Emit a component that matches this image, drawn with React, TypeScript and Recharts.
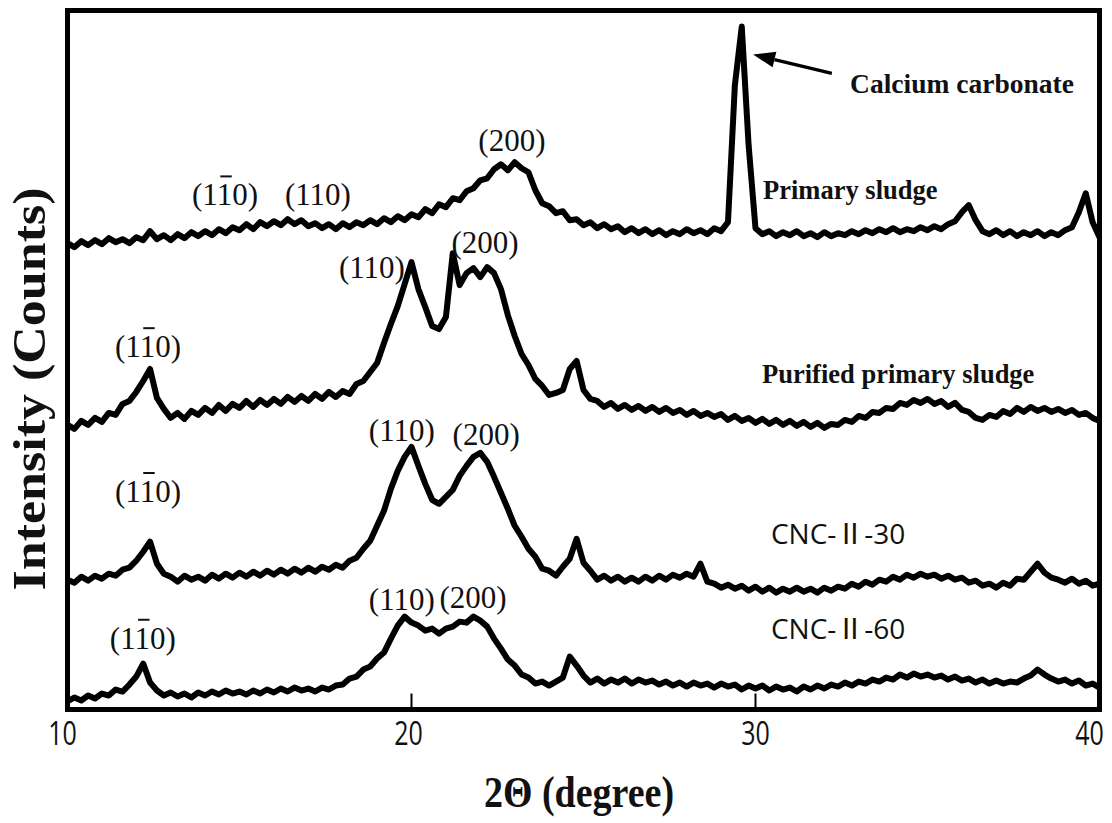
import { LineChart, Line, XAxis, YAxis, ReferenceLine, ReferenceDot, ReferenceArea } from 'recharts'

// 2θ sampling grid (degrees)
const twoTheta = [
  10, 10.2, 10.4, 10.6, 10.8, 11, 11.2, 11.4, 11.6, 11.8,
  12, 12.2, 12.4, 12.6, 12.8, 13, 13.2, 13.4, 13.6, 13.8,
  14, 14.2, 14.4, 14.6, 14.8, 15, 15.2, 15.4, 15.6, 15.8,
  16, 16.2, 16.4, 16.6, 16.8, 17, 17.2, 17.4, 17.6, 17.8,
  18, 18.2, 18.4, 18.6, 18.8, 19, 19.2, 19.4, 19.6, 19.8,
  20, 20.2, 20.4, 20.6, 20.8, 21, 21.2, 21.4, 21.6, 21.8,
  22, 22.2, 22.4, 22.6, 22.8, 23, 23.2, 23.4, 23.6, 23.8,
  24, 24.2, 24.4, 24.6, 24.8, 25, 25.2, 25.4, 25.6, 25.8,
  26, 26.2, 26.4, 26.6, 26.8, 27, 27.2, 27.4, 27.6, 27.8,
  28, 28.2, 28.4, 28.6, 28.8, 29, 29.2, 29.4, 29.6, 29.8,
  30, 30.2, 30.4, 30.6, 30.8, 31, 31.2, 31.4, 31.6, 31.8,
  32, 32.2, 32.4, 32.6, 32.8, 33, 33.2, 33.4, 33.6, 33.8,
  34, 34.2, 34.4, 34.6, 34.8, 35, 35.2, 35.4, 35.6, 35.8,
  36, 36.2, 36.4, 36.6, 36.8, 37, 37.2, 37.4, 37.6, 37.8,
  38, 38.2, 38.4, 38.6, 38.8, 39, 39.2, 39.4, 39.6, 39.8,
  40,
]

// Intensities, already offset for the stacked display
const primarySludge = [
  467, 463, 469, 465, 470, 466, 472, 468, 471, 467,
  473, 470, 479, 471, 475, 470, 476, 472, 478, 474,
  479, 475, 481, 477, 483, 480, 486, 481, 488, 484,
  489, 485, 491, 486, 490, 484, 487, 482, 486, 481,
  487, 483, 488, 485, 490, 486, 492, 488, 494, 490,
  496, 493, 501, 497, 506, 503, 512, 510, 519, 522,
  530, 532, 541, 546, 540, 548, 542, 538, 520, 507,
  504, 497, 499, 490, 491, 485, 488, 482, 486, 481,
  484, 478, 482, 477, 481, 476, 480, 475, 479, 476,
  481, 477, 480, 476, 482, 479, 488, 625, 684, 565,
  482, 476, 479, 474, 478, 475, 479, 474, 477, 473,
  478, 474, 477, 475, 479, 476, 480, 477, 481, 478,
  482, 478, 481, 479, 483, 480, 484, 481, 486, 489,
  498, 505, 490, 479, 476, 480, 475, 479, 474, 478,
  475, 479, 474, 478, 475, 480, 483, 498, 517, 488,
  473,
]

const purifiedSludge = [
  285, 281, 289, 285, 292, 288, 297, 295, 306, 309,
  318, 329, 341, 312, 301, 292, 297, 291, 299, 295,
  302, 297, 305, 299, 306, 302, 309, 303, 310, 305,
  311, 306, 313, 308, 314, 309, 316, 311, 318, 313,
  319, 316, 326, 329, 338, 347, 367, 386, 404, 426,
  448, 421, 403, 384, 381, 393, 457, 425, 437, 442,
  433, 443, 437, 421, 395, 374, 356, 345, 331, 324,
  315, 317, 320, 341, 349, 320, 311, 309, 303, 307,
  301, 305, 300, 304, 299, 303, 298, 302, 297, 300,
  295, 299, 294, 297, 293, 296, 290, 294, 289, 292,
  287, 291, 286, 290, 285, 289, 284, 288, 283, 287,
  282, 286, 285, 290, 288, 294, 292, 298, 297, 302,
  301, 307, 305, 310, 307, 311, 306, 309, 303, 307,
  300, 298, 292, 290, 295, 293, 299, 296, 302, 298,
  303, 299, 302, 298, 301, 297, 300, 295, 297, 292,
  289,
]

const cnc30 = [
  130, 127, 133, 129, 134, 131, 136, 134, 140, 142,
  149, 158, 168, 146, 136, 133, 128, 134, 130, 133,
  129, 135, 131, 136, 132, 137, 133, 138, 134, 139,
  135, 140, 136, 141, 137, 142, 138, 143, 140, 145,
  142, 149, 152, 161, 169, 184, 199, 221, 239, 253,
  263, 244, 226, 210, 206, 213, 220, 234, 244, 253,
  257, 248, 233, 217, 201, 184, 173, 161, 153, 141,
  139, 134, 143, 151, 171, 147, 139, 130, 134, 129,
  133, 128, 132, 128, 133, 129, 134, 130, 135, 132,
  136, 133, 146, 128, 126, 122, 125, 121, 124, 119,
  123, 118, 122, 117, 121, 118, 122, 118, 121, 117,
  122, 119, 123, 121, 126, 123, 128, 125, 130, 128,
  133, 130, 135, 132, 136, 133, 135, 131, 134, 130,
  132, 127, 129, 124, 126, 122, 127, 124, 131, 130,
  138, 146, 137, 132, 130, 127, 131, 126, 129, 124,
  126,
]

const cnc60 = [
  8, 12, 9, 14, 11, 16, 14, 20, 18, 25,
  33, 46, 27, 19, 14, 17, 13, 16, 12, 17,
  14, 18, 15, 19, 16, 18, 15, 19, 16, 20,
  17, 21, 18, 22, 19, 21, 18, 22, 20, 24,
  25, 31, 33, 40, 43, 51, 57, 71, 84, 93,
  87, 84, 79, 81, 76, 81, 83, 88, 87, 93,
  89, 83, 71, 61, 50, 44, 35, 32, 26, 28,
  24, 28, 32, 53, 44, 34, 27, 31, 26, 30,
  27, 31, 26, 30, 27, 29, 25, 28, 24, 27,
  23, 27, 24, 26, 22, 26, 23, 25, 20, 24,
  21, 24, 19, 23, 20, 22, 18, 23, 20, 24,
  21, 25, 23, 27, 24, 28, 26, 30, 28, 32,
  30, 35, 32, 36, 33, 35, 32, 34, 30, 33,
  29, 31, 27, 30, 26, 29, 26, 28, 27, 31,
  34, 40, 35, 31, 28, 30, 26, 29, 24, 26,
  22,
]

const xTicks = [10, 20, 30, 40]
const innerTicks = [20, 30]

// Miller index annotations (centre of text, in 2θ / intensity units)
const peakLabels = [
  { text: '(110)', bar: true, x: 14.58, y: 512 },
  { text: '(110)', bar: false, x: 17.28, y: 512 },
  { text: '(200)', bar: false, x: 22.92, y: 566 },
  { text: '(110)', bar: true, x: 12.34, y: 360 },
  { text: '(110)', bar: false, x: 18.85, y: 439 },
  { text: '(200)', bar: false, x: 22.14, y: 464 },
  { text: '(110)', bar: true, x: 12.34, y: 215 },
  { text: '(110)', bar: false, x: 19.72, y: 276 },
  { text: '(200)', bar: false, x: 22.17, y: 272 },
  { text: '(110)', bar: true, x: 12.19, y: 68 },
  { text: '(110)', bar: false, x: 19.72, y: 107 },
  { text: '(200)', bar: false, x: 21.79, y: 109 },
]

// Sample names (left edge / baseline)
const sampleLabels = [
  { text: 'Calcium carbonate', serif: true, x: 32.75, y: 617 },
  { text: 'Primary sludge', serif: true, x: 30.22, y: 511 },
  { text: 'Purified primary sludge', serif: true, x: 30.19, y: 327 },
  { text: 'CNC-\u2161-30', serif: false, x: 30.45, y: 166 },
  { text: 'CNC-\u2161-60', serif: false, x: 30.45, y: 71 },
]

// arrow from the label to the calcite reflection
const arrowPath = [
  { x: 32.22, y: 637 },
  { x: 29.93, y: 656 },
]

const data = twoTheta.map((t, i) => ({
  t,
  primary: primarySludge[i],
  purified: purifiedSludge[i],
  cnc30: cnc30[i],
  cnc60: cnc60[i],
}))

const SERIF = "'Liberation Serif', 'Times New Roman', serif"
const SANS = "'Open Sans', 'Noto Sans CJK SC', sans-serif"
const INK = '#111'

function XTick(props: any) {
  const { x, y, payload } = props
  const shift = payload.value === 10 ? -5 : payload.value === 40 ? -10 : payload.value === 20 ? -3 : 0
  return (
    <text
      transform={`translate(${x + shift},${y + 21.5}) scale(1,1.3)`}
      textAnchor="middle"
      fontFamily={SANS}
      fontSize={25}
      fill={INK}
    >
      {payload.value}
    </text>
  )
}

// axis titles are anchored on the plot's edges through a zero-size ReferenceDot
function XTitle({ cx, cy }: any) {
  return (
    <text
      transform={`translate(${cx},${cy + 97}) scale(1,1.15)`}
      textAnchor="middle"
      fontFamily={SERIF}
      fontWeight="bold"
      fontSize={38}
      fill={INK}
    >
      2Θ (degree)
    </text>
  )
}

function YTitle({ cx, cy }: any) {
  return (
    <text
      transform={`translate(${cx - 22.5},${cy}) rotate(-90) scale(1.13,1)`}
      textAnchor="middle"
      fontFamily={SERIF}
      fontWeight="bold"
      fontSize={46}
      fill={INK}
    >
      Intensity (Counts)
    </text>
  )
}

function PeakLabel({ cx, cy, text, bar }: any) {
  const fs = 31
  const base = cy + 7
  const start = cx - (2.167 * fs) / 2
  return (
    <g>
      <text x={cx} y={base} textAnchor="middle" fontFamily={SERIF} fontSize={fs} fill={INK}>
        {text}
      </text>
      {bar && (
        <line
          x1={start + 0.93 * fs}
          x2={start + 1.3 * fs}
          y1={base - 0.93 * fs}
          y2={base - 0.93 * fs}
          stroke={INK}
          strokeWidth={2}
        />
      )}
    </g>
  )
}

function SampleLabel({ cx, cy, text, serif }: any) {
  return (
    <text
      x={cx}
      y={cy}
      fontFamily={serif ? SERIF : SANS}
      fontWeight={serif ? 'bold' : 'normal'}
      fontSize={serif ? (text.startsWith('Calcium') ? 27.5 : 26.5) : 28}
      fill={INK}
    >
      {text}
    </text>
  )
}

function Arrow(p: any) {
  const { x1, y1, x2, y2 } = p
  const ang = Math.atan2(y2 - y1, x2 - x1)
  const len = 22
  const half = 8
  const bx = x2 - len * Math.cos(ang)
  const by = y2 - len * Math.sin(ang)
  const nx = -Math.sin(ang) * half
  const ny = Math.cos(ang) * half
  return (
    <g>
      <line x1={x1} y1={y1} x2={bx} y2={by} stroke="#000" strokeWidth={3.5} />
      <polygon points={`${x2},${y2} ${bx + nx},${by + ny} ${bx - nx},${by - ny}`} fill="#000" />
    </g>
  )
}

const seriesKeys = ['primary', 'purified', 'cnc30', 'cnc60']

export default function App() {
  return (
    <div style={{ position: 'absolute', left: 0, top: 0, background: '#fff' }}>
      <LineChart
        width={1112}
        height={823}
        data={data}
        margin={{ top: 10.5, right: 12.5, bottom: 13.5, left: 67.5 }}
      >
        <XAxis
          dataKey="t"
          type="number"
          domain={[10, 40]}
          ticks={xTicks}
          tick={<XTick />}
          tickLine={false}
          tickSize={6}
          tickMargin={8}
          height={100}
          axisLine={false}
          allowDataOverflow
        />
        <YAxis type="number" domain={[0, 700]} hide allowDataOverflow />
        <ReferenceArea
          x1={10}
          x2={40}
          y1={0}
          y2={700}
          fill="none"
          fillOpacity={0}
          stroke="#000"
          strokeWidth={5}
          strokeOpacity={1}
          ifOverflow="visible"
        />
        {innerTicks.map((t) => (
          <ReferenceLine
            key={`tick-${t}`}
            segment={[{ x: t, y: 0 }, { x: t, y: 16 }]}
            stroke="#000"
            strokeWidth={2}
          />
        ))}
        {seriesKeys.map((k) => (
          <Line
            key={k}
            type="linear"
            dataKey={k}
            stroke="#000"
            strokeWidth={6}
            strokeLinejoin="round"
            dot={false}
            activeDot={false}
            isAnimationActive={false}
          />
        ))}
        {peakLabels.map((p, i) => (
          <ReferenceDot
            key={`peak-${i}`}
            x={p.x}
            y={p.y}
            r={0}
            shape={(s: any) => <PeakLabel cx={s.cx} cy={s.cy} text={p.text} bar={p.bar} />}
          />
        ))}
        {sampleLabels.map((s, i) => (
          <ReferenceDot
            key={`name-${i}`}
            x={s.x}
            y={s.y}
            r={0}
            shape={(d: any) => <SampleLabel cx={d.cx} cy={d.cy} text={s.text} serif={s.serif} />}
          />
        ))}
        <ReferenceLine segment={arrowPath} shape={(p: any) => <Arrow {...p} />} />
        <ReferenceDot x={24.87} y={0} r={0} ifOverflow="visible" shape={(d: any) => <XTitle cx={d.cx} cy={d.cy} />} />
        <ReferenceDot x={10} y={321} r={0} ifOverflow="visible" shape={(d: any) => <YTitle cx={d.cx} cy={d.cy} />} />
      </LineChart>
    </div>
  )
}
